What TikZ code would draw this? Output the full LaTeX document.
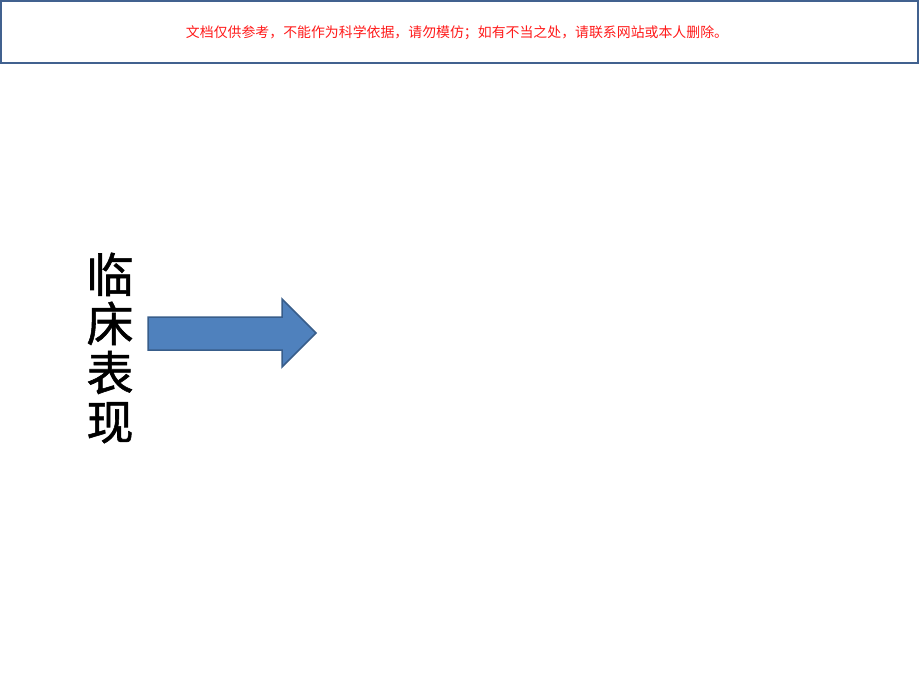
\documentclass[tikz,border=0pt]{standalone}
\usepackage{fontspec}
\newfontfamily\cjk{Noto Sans CJK SC}
\newfontfamily\cjkheavy[FakeBold=1.2]{Noto Sans CJK SC}
\definecolor{frameblue}{HTML}{41618F}
\definecolor{arrowfill}{HTML}{4F81BD}
\definecolor{arrowline}{HTML}{385D8A}
\definecolor{notered}{HTML}{FF1A1A}
\tikzset{
  notebox/.style={draw=frameblue, line width=2pt},
  arrowbody/.style={fill=arrowfill, draw=arrowline, line width=1.5pt, line join=miter}
}
\begin{document}
\begin{tikzpicture}[x=1pt, y=-1pt]
    \useasboundingbox (0,0) rectangle (920,690);

    % Header frame with notice
    \draw[notebox] (1,1) rectangle (918,63);
    \node[text=notered, font=\cjk\fontsize{13.9}{16}\selectfont] (note) at (457,33) {文档仅供参考，不能作为科学依据，请勿模仿；如有不当之处，请联系网站或本人删除。};

    % Vertical title
    \node[align=center, font=\cjkheavy\fontsize{47}{49}\selectfont, inner sep=0pt] (title) at (110,348) {临\\床\\表\\现};

    % Block arrow
    \draw[arrowbody] (148,317) -- (282,317) -- (282,299) -- (316,333) -- (282,367) -- (282,350) -- (148,350) -- cycle;
\end{tikzpicture}
\end{document}
